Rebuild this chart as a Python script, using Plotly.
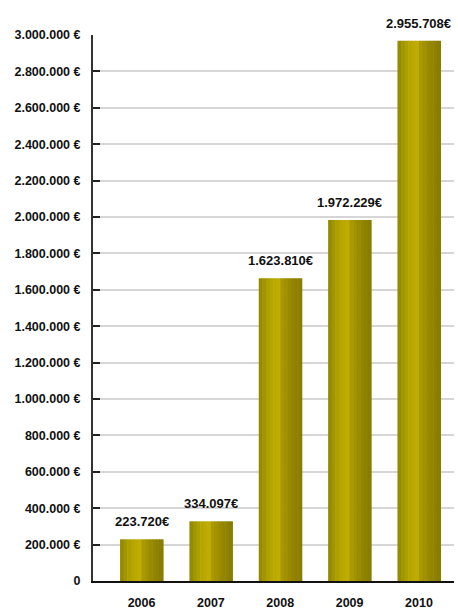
import plotly.graph_objects as go

years = ["2006", "2007", "2008", "2009", "2010"]
# bar heights as drawn in the picture (EUR)
bar_values = [229000, 328000, 1664000, 1983000, 2969000]
value_labels = ["223.720€", "334.097€", "1.623.810€", "1.972.229€", "2.955.708€"]
y_tickvals = [0, 200000, 400000, 600000, 800000, 1000000, 1200000, 1400000,
              1600000, 1800000, 2000000, 2200000, 2400000, 2600000, 2800000, 3000000]
y_ticktext = ["0", "200.000 €", "400.000 €", "600.000 €", "800.000 €", "1.000.000 €",
              "1.200.000 €", "1.400.000 €", "1.600.000 €", "1.800.000 €", "2.000.000 €",
              "2.200.000 €", "2.400.000 €", "2.600.000 €", "2.800.000 €", "3.000.000 €"]

# horizontal "cylinder" shading of each bar
strip_colors = ["#958a00", "#a19600", "#ac9f00", "#b5a500", "#bba900", "#c0ab00",
                "#a99800", "#a29100", "#9a8a00", "#938500", "#8d8100", "#897d00"]

FONT = "Liberation Sans, Arial, sans-serif"
W = 0.62
n = len(strip_colors)
sw = W / n

fig = go.Figure()
for j, c in enumerate(strip_colors):
    fig.add_trace(go.Bar(
        x=years, y=bar_values,
        width=sw * 1.15, offset=-W / 2 + j * sw,
        marker=dict(color=c, line=dict(width=0)),
        hoverinfo="skip", showlegend=False,
    ))

for i, (v, t) in enumerate(zip(bar_values, value_labels)):
    fig.add_annotation(x=i, y=v, xref="x", yref="y", text="<b>%s</b>" % t,
                       showarrow=False, yanchor="bottom", yshift=8,
                       font=dict(family=FONT, size=13, color="#111111"))

fig.update_layout(
    width=458, height=611,
    margin=dict(l=93, r=4, t=35, b=30),
    paper_bgcolor="white", plot_bgcolor="white",
    barmode="overlay",
    font=dict(family=FONT, size=13, color="#111111"),
    xaxis=dict(type="category", range=[-0.70, 4.505], automargin=False,
               showline=True, linecolor="#111111", linewidth=2,
               showgrid=False, ticks="", ticklabelstandoff=9,
               tickvals=years, ticktext=["<b>%s</b>" % y for y in years],
               tickfont=dict(family=FONT, size=12.5, color="#111111")),
    yaxis=dict(range=[0, 3000000], automargin=False,
               showline=True, linecolor="#333333", linewidth=2,
               ticks="inside", ticklen=7, tickwidth=2, tickcolor="#222222",
               showgrid=True, gridcolor="#d6d6d6", gridwidth=1.5,
               zeroline=False,
               tickvals=y_tickvals, ticktext=["<b>%s</b>" % t for t in y_ticktext],
               ticklabelstandoff=8,
               tickfont=dict(family=FONT, size=12.5, color="#111111")),
)

fig.write_html("out.html")
